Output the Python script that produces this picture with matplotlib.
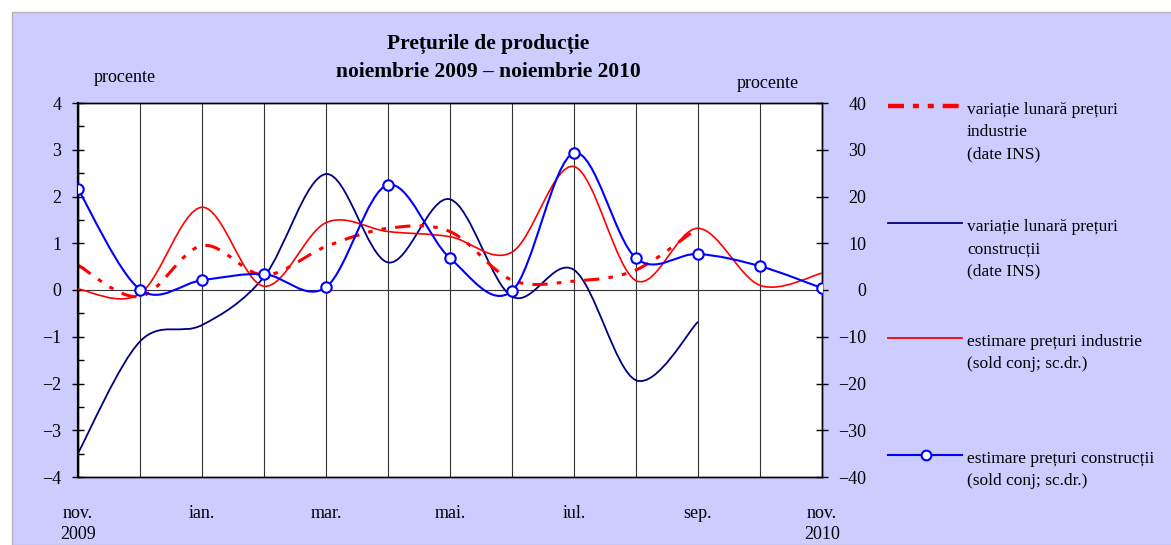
import matplotlib
matplotlib.use('Agg')
import matplotlib.pyplot as plt
from matplotlib.path import Path
from matplotlib.patches import PathPatch, Rectangle
from matplotlib.lines import Line2D

plt.rcParams['font.family'] = ['Liberation Serif', 'DejaVu Serif']

# monthly data, nov 2009 .. nov 2010
months = ['nov.\n2009', 'dec.', 'ian.', 'feb.', 'mar.', 'apr.', 'mai.',
          'iun.', 'iul.', 'aug.', 'sep.', 'oct.', 'nov.\n2010']
shown_labels = ['nov.\n2009', '', 'ian.', '', 'mar.', '', 'mai.',
                '', 'iul.', '', 'sep.', '', 'nov.\n2010']

# left axis (procente)
ind_monthly = [0.53, -0.14, 0.95, 0.32, 0.93, 1.32, 1.25, 0.21, 0.19, 0.43, 1.33]
constr_monthly = [-3.49, -1.1, -0.75, 0.28, 2.48, 0.59, 1.94, -0.14, 0.43, -1.93, -0.68]
# right axis (sold conjunctural)
ind_est = [0.2, -0.8, 17.7, 0.8, 14.4, 12.5, 11.4, 8.1, 26.4, 2.0, 13.2, 1.0, 3.6]
constr_est = [21.6, 0.1, 2.1, 3.4, 0.6, 22.5, 6.8, -0.2, 29.3, 6.8, 7.7, 5.1, 0.4]

labels = ['variație lunară prețuri\nindustrie\n(date INS)',
          'variație lunară prețuri\nconstrucții\n(date INS)',
          'estimare prețuri industrie\n(sold conj; sc.dr.)',
          'estimare prețuri construcții\n(sold conj; sc.dr.)']

RED = '#FF0000'
NAVY = '#000080'
BLUE = '#0000FF'
DASHDOT = (0, (5, 3, 1.5, 3, 1.5, 3))
DASHDOT_LEG = (0, (3.6, 2.0, 1.35, 2.0, 1.35, 2.0))

FS = 13


def smooth_path(ys):
    # excel-like smoothed line (cubic bezier through the monthly points)
    pts = list(zip(range(len(ys)), ys))
    n = len(pts)
    verts = [pts[0]]
    codes = [Path.MOVETO]
    for i in range(n - 1):
        p0 = pts[max(i - 1, 0)]
        p1 = pts[i]
        p2 = pts[i + 1]
        p3 = pts[min(i + 2, n - 1)]
        c1 = (p1[0] + (p2[0] - p0[0]) / 6, p1[1] + (p2[1] - p0[1]) / 6)
        c2 = (p2[0] - (p3[0] - p1[0]) / 6, p2[1] - (p3[1] - p1[1]) / 6)
        verts += [c1, c2, p2]
        codes += [Path.CURVE4] * 3
    return Path(verts, codes)


W, H = 1171, 545
fig = plt.figure(figsize=(W / 100, H / 100), dpi=100)
fig.patch.set_facecolor('white')
fig.add_artist(Rectangle((12 / W, 0), 1, 1 - 12 / H, transform=fig.transFigure,
                         facecolor='#CCCCFF', edgecolor='#B4B4B4', lw=1, zorder=0))

ax = fig.add_axes([78 / W, 1 - 477 / H, (822 - 78) / W, (477 - 103) / H])
ax.set_facecolor('white')
ax2 = ax.twinx()

ax.set_xlim(0, 12)
ax.set_ylim(-4, 4)
ax2.set_ylim(-40, 40)

ax.grid(axis='x', color='#333333', lw=0.8)
ax.axhline(0, color='#333333', lw=0.8, zorder=1)

ax.add_patch(PathPatch(smooth_path(constr_monthly), fc='none', ec=NAVY, lw=1.3, zorder=3))
ax.add_patch(PathPatch(smooth_path(ind_monthly), fc='none', ec=RED, lw=2.2,
                       ls=DASHDOT, zorder=3))
ax2.add_patch(PathPatch(smooth_path(ind_est), fc='none', ec=RED, lw=1.2, zorder=3))
ax2.add_patch(PathPatch(smooth_path(constr_est), fc='none', ec=BLUE, lw=1.5, zorder=4))
ax2.plot(range(len(constr_est)), constr_est, 'o', ms=7.5, mfc='white', mec=BLUE,
         mew=1.5, zorder=5)

# axes styling
ax.set_xticks(range(13))
ax.set_xticklabels(shown_labels, fontsize=FS, linespacing=1.3)
ax.tick_params(axis='x', length=0, pad=20)
ax.set_yticks(range(-4, 5))
ax.set_yticks([v + 0.5 for v in range(-4, 4)], minor=True)
ax.tick_params(axis='y', which='major', direction='inout', length=8, width=1,
               labelsize=FS, pad=8)
ax.tick_params(axis='y', which='minor', direction='in', length=4, width=1)
ax2.set_yticks(range(-40, 41, 10))
ax2.tick_params(axis='y', direction='inout', length=8, width=1, labelsize=FS, pad=28)
for t in ax2.get_yticklabels():
    t.set_horizontalalignment('right')

for a in (ax, ax2):
    for s in a.spines.values():
        s.set_color('black')
        s.set_linewidth(1.0)
ax.spines['left'].set_linewidth(1.6)

# titles
fig.text(488 / W, 1 - 44 / H, 'Prețurile de producție', ha='center', va='center',
         fontsize=15.5, fontweight='bold')
fig.text(488 / W, 1 - 72 / H, 'noiembrie 2009 – noiembrie 2010', ha='center',
         va='center', fontsize=15.5, fontweight='bold')
fig.text(125 / W, 1 - 77 / H, 'procente', ha='center', va='center', fontsize=FS)
fig.text(768 / W, 1 - 83 / H, 'procente', ha='center', va='center', fontsize=FS)

# legend drawn by hand on the right
leg_y = [106, 223, 338, 455]
styles = [dict(color=RED, lw=3.2, ls=DASHDOT_LEG),
          dict(color=NAVY, lw=1.3),
          dict(color=RED, lw=1.3),
          dict(color=BLUE, lw=1.5, marker='o', ms=7, mfc='white', mec=BLUE, mew=1.5,
               markevery=[1])]
for y, st, lab in zip(leg_y, styles, labels):
    fy = 1 - y / H
    fig.add_artist(Line2D([888 / W, 926 / W, 962 / W], [fy, fy, fy],
                          transform=fig.transFigure, **st))
    for k, line in enumerate(lab.split('\n')):
        fig.text(967 / W, 1 - (y + 2 + 22 * k) / H, line, ha='left',
                 va='center_baseline', fontsize=12.5)

fig.savefig('out.png', dpi=100)
